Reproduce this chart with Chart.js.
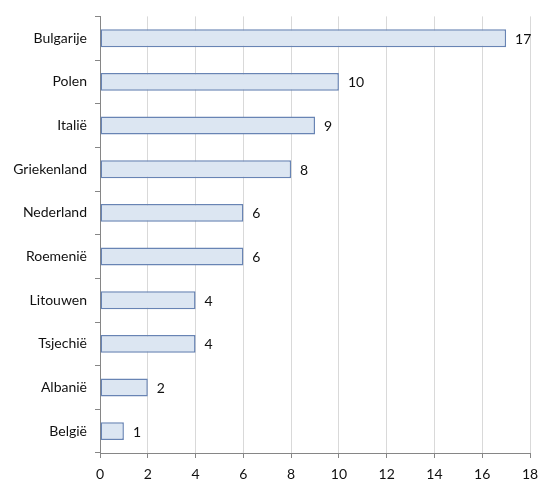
<!DOCTYPE html>
<html>
<head>
<meta charset="utf-8">
<script src="https://cdn.jsdelivr.net/npm/chart.js@4"></script>
<style>
  body { margin: 0; background: #fff; }
  #wrap { width: 542px; height: 479px; }
</style>
</head>
<body>
<div id="wrap"><canvas id="myChart" width="542" height="479"></canvas></div>
<script>
const countries = ["Bulgarije", "Polen", "Italië", "Griekenland", "Nederland", "Roemenië", "Litouwen", "Tsjechië", "Albanië", "België"];
const counts = [17, 10, 9, 8, 6, 6, 4, 4, 2, 1];
const xTicks = [0, 2, 4, 6, 8, 10, 12, 14, 16, 18];

const fontFamily = "Lato, 'Open Sans', sans-serif";

// writes the value just right of every bar
const valueLabels = {
  id: "valueLabels",
  afterDatasetsDraw(chart) {
    const ctx = chart.ctx;
    const meta = chart.getDatasetMeta(0);
    ctx.save();
    ctx.font = "14px " + fontFamily;
    ctx.fillStyle = "#111";
    ctx.textAlign = "left";
    ctx.textBaseline = "middle";
    meta.data.forEach((bar, i) => {
      ctx.fillText(counts[i], bar.x + 9, bar.y + 1);
    });
    ctx.restore();
  }
};

new Chart(document.getElementById("myChart"), {
  type: "bar",
  data: {
    labels: countries,
    datasets: [{
      data: counts,
      backgroundColor: "#dce6f2",
      borderColor: "#6884b4",
      borderWidth: 1.5,
      borderSkipped: false,
      categoryPercentage: 1,
      barPercentage: 0.41
    }]
  },
  options: {
    indexAxis: "y",
    responsive: false,
    animation: false,
    layout: { padding: { top: 13, right: 12, left: 0, bottom: 0 } },
    plugins: {
      legend: { display: false },
      tooltip: { enabled: false }
    },
    scales: {
      x: {
        min: 0,
        max: 18,
        afterBuildTicks: (axis) => { axis.ticks = xTicks.map(v => ({ value: v })); },
        grid: { color: "#d9d9d9", tickColor: "#868686", tickLength: 5 },
        border: { color: "#868686" },
        ticks: { color: "#111", font: { size: 14, family: fontFamily }, padding: 8, maxRotation: 0 },
        afterFit: (axis) => {
          axis.height = 26;
          axis.paddingLeft = 0;
          axis.paddingRight = 0;
        }
      },
      y: {
        offset: true,
        grid: { offset: true, drawOnChartArea: false, tickColor: "#868686", tickLength: 5 },
        border: { color: "#868686" },
        ticks: { color: "#111", font: { size: 14, family: fontFamily }, padding: 8 },
        afterFit: (axis) => { axis.width = 100; }
      }
    }
  },
  plugins: [valueLabels]
});
</script>
</body>
</html>
